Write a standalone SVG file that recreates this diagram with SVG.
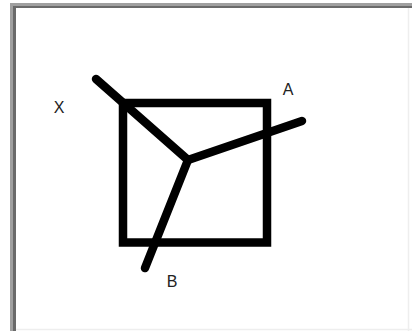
<svg xmlns="http://www.w3.org/2000/svg" width="412" height="331" viewBox="0 0 412 331">
<style>
.lbl{font-family:"Liberation Sans",Arial,sans-serif;font-size:16px;fill:#222;text-anchor:middle}
.ln{stroke:#000;stroke-width:8.5;stroke-linecap:round;fill:none}
</style>
<rect width="412" height="331" fill="#fff"/>
<g id="frame">
<rect x="10" y="3" width="402" height="328" fill="#a0a0a0"/>
<rect x="13" y="6" width="399" height="325" fill="#6a6a6a"/>
<rect x="16" y="8" width="396" height="323" fill="#fff"/>
<line x1="408.5" y1="8" x2="408.5" y2="331" stroke="#eeeeee" stroke-width="1.5"/>
<line x1="16" y1="329.5" x2="412" y2="329.5" stroke="#eeeeee" stroke-width="1.5"/>
</g>
<g id="square">
<rect x="123" y="103" width="144" height="139.5" fill="none" stroke="#000" stroke-width="8.5"/>
</g>
<g id="connectors">
<line class="ln" x1="96" y1="79" x2="188" y2="160"/>
<line class="ln" x1="188" y1="160" x2="302" y2="121"/>
<line class="ln" x1="188" y1="160" x2="145" y2="268"/>
</g>
<g id="label-X"><text class="lbl" x="59" y="113">X</text></g>
<g id="label-A"><text class="lbl" x="288" y="95">A</text></g>
<g id="label-B"><text class="lbl" x="172" y="287">B</text></g>
</svg>
